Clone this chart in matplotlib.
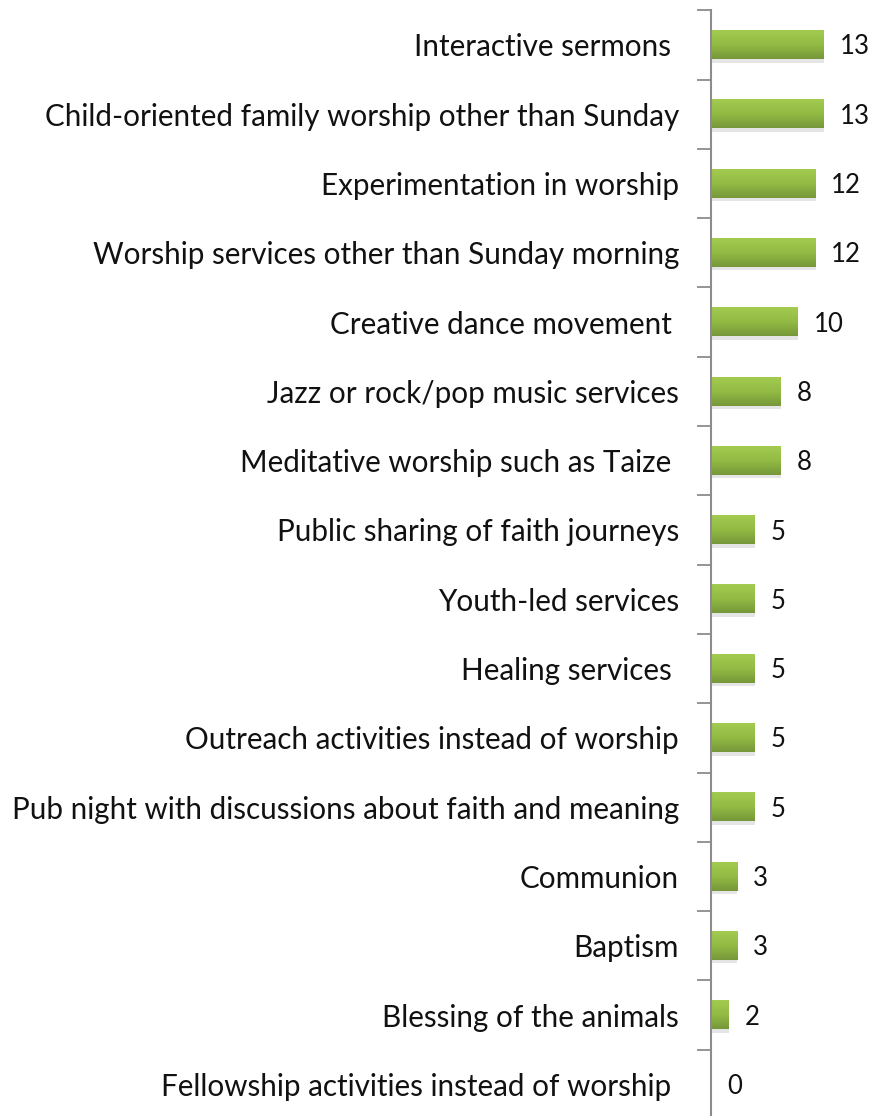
import numpy as np
import matplotlib.pyplot as plt
from matplotlib.colors import LinearSegmentedColormap

# Categories and counts (top to bottom)
activities = ["Interactive sermons ",
              "Child-oriented family worship other than Sunday",
              "Experimentation in worship",
              "Worship services other than Sunday morning",
              "Creative dance movement ",
              "Jazz or rock/pop music services",
              "Meditative worship such as Taize ",
              "Public sharing of faith journeys",
              "Youth-led services",
              "Healing services ",
              "Outreach activities instead of worship",
              "Pub night with discussions about faith and meaning",
              "Communion",
              "Baptism",
              "Blessing of the animals",
              "Fellowship activities instead of worship "]
counts = [13, 13, 12, 12, 10, 8, 8, 5, 5, 5, 5, 5, 3, 3, 2, 0]

plt.rcParams['font.family'] = ['Lato', 'DejaVu Sans']

fig = plt.figure(figsize=(8.75, 11.16), dpi=100)
ax = fig.add_axes([0.8126, -0.0027, 0.1874, 0.9935])

y = np.arange(len(activities))
bar_h = 0.41
grad = LinearSegmentedColormap.from_list("g", ["#a3cb50", "#93bb44", "#76973a"])
gimg = np.linspace(0, 1, 64).reshape(-1, 1)

for yi, v in zip(y, counts):
    if v > 0:
        # soft shadow
        ax.barh(yi + 0.05, v, height=bar_h, color="#000000", alpha=0.10,
                left=0.05, zorder=1)
        ax.imshow(gimg, cmap=grad, aspect='auto',
                  extent=[0, v, yi + bar_h / 2, yi - bar_h / 2], zorder=2)
    ax.text(v + 1.85, yi + 0.03, str(v), va='center', ha='left', fontsize=18.5,
            color='#111111')

ax.set_xlim(0, 18.9)
ax.set_ylim(len(activities) - 0.5, -0.5)
ax.set_yticks(y)
ax.set_yticklabels(activities, fontsize=21.3, color='#111111')
ax.set_yticks(np.arange(len(activities) + 1) - 0.5, minor=True)
ax.tick_params(axis='y', which='major', length=0, pad=23)
ax.tick_params(axis='y', which='minor', length=10, width=1.3, color='#8c8c8c')
ax.set_xticks([])
for s in ['top', 'right', 'bottom']:
    ax.spines[s].set_visible(False)
ax.spines['left'].set_color('#8c8c8c')
ax.spines['left'].set_linewidth(1.5)
ax.set_facecolor('none')

fig.savefig("out.png", dpi=100)
